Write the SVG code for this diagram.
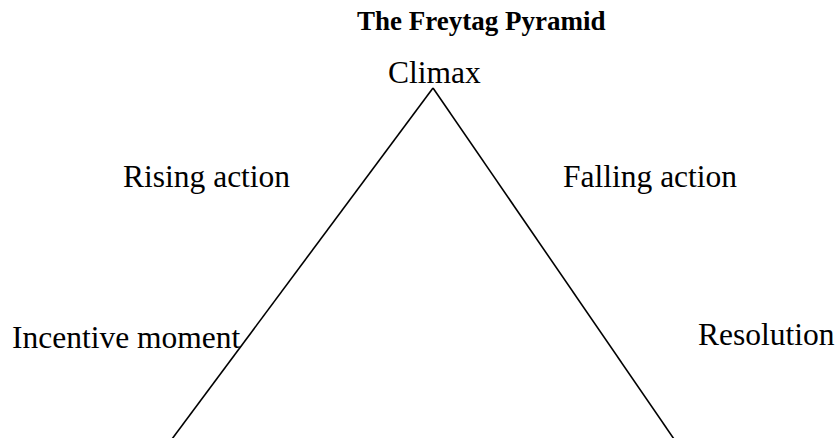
<svg xmlns="http://www.w3.org/2000/svg" width="838" height="438" viewBox="0 0 838 438">
<style>
.t{font-family:"Liberation Serif","Times New Roman",serif;font-size:31.5px;fill:#000}
.title{font-family:"Liberation Serif","Times New Roman",serif;font-size:27px;font-weight:bold;fill:#000}
.edge{stroke:#000;stroke-width:1.6;fill:none}
</style>
<rect width="838" height="438" fill="#fff"/>
<text class="title" x="357" y="30">The Freytag Pyramid</text>
<g id="connectors">
<line class="edge" x1="433" y1="88" x2="172" y2="439"/>
<line class="edge" x1="433" y1="88" x2="674" y2="439"/>
</g>
<g id="climax"><text class="t" x="388" y="83">Climax</text></g>
<g id="rising"><text class="t" x="123" y="187">Rising action</text></g>
<g id="falling"><text class="t" x="563" y="187">Falling action</text></g>
<g id="incentive"><text class="t" x="12" y="348">Incentive moment</text></g>
<g id="resolution"><text class="t" x="698" y="345">Resolution</text></g>
</svg>
